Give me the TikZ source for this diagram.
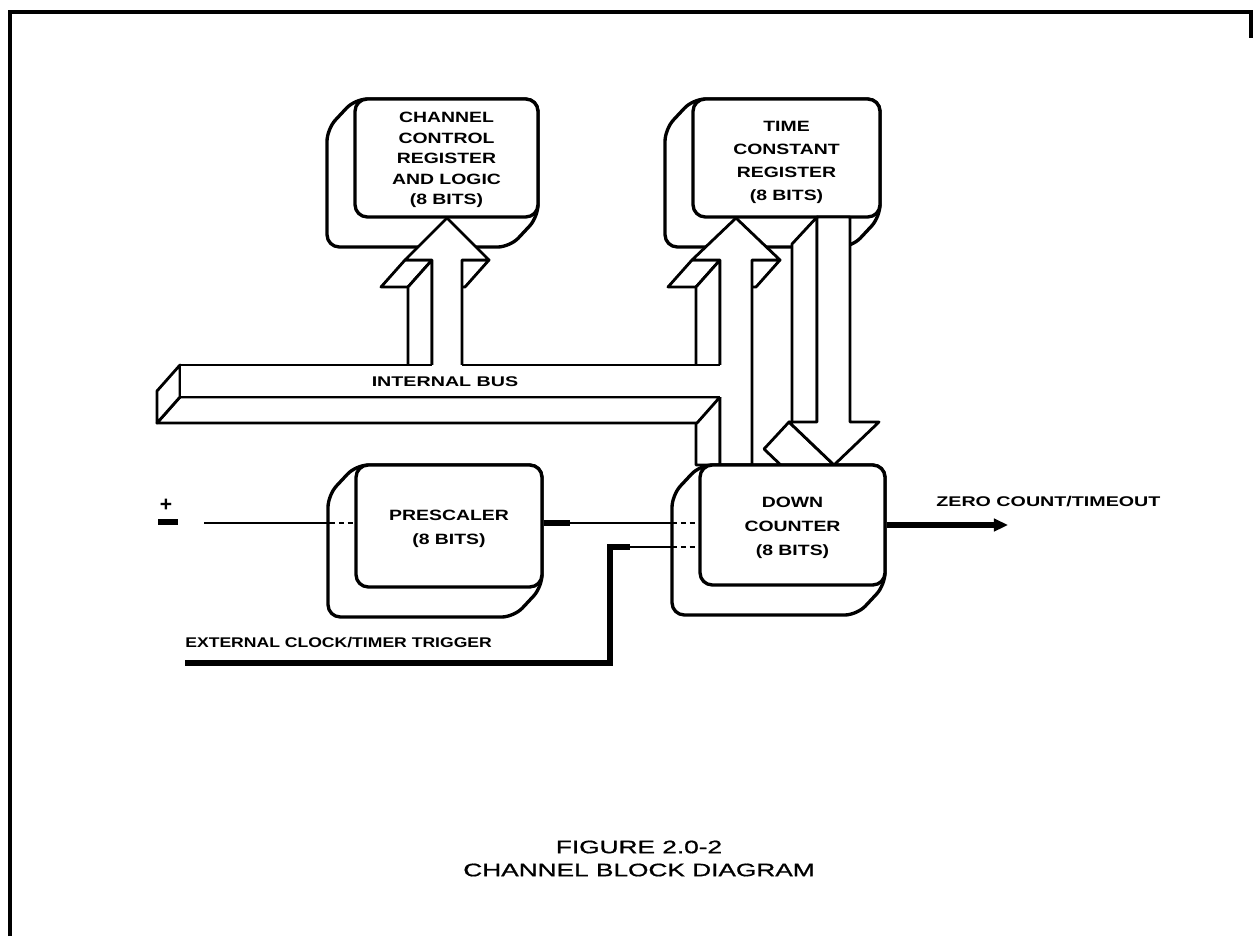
\documentclass[tikz,border=0pt]{standalone}
\usepackage{fontspec}
\setmainfont{Liberation Sans}
\newfontfamily\capfont{Liberation Sans}[FakeBold=0.8]
\usetikzlibrary{arrows.meta,fit}
\newcommand\btext[2]{\scalebox{1.3}[1]{\fontsize{8.5}{#1}\selectfont\bfseries\begin{tabular}{@{}c@{}}#2\end{tabular}}}
\newcommand\lbl[1]{\scalebox{1.4}[1]{\fontsize{8}{9}\selectfont\bfseries #1}}
\newcommand\captext[1]{\scalebox{1.45}[1]{\capfont\fontsize{10.3}{12}\selectfont #1}}
\tikzset{
 face/.style={draw=black, fill=white, line width=1.6pt, line join=round},
 boxface/.style={face, line width=1.9pt, rounded corners=7pt},
 boxnode/.style={boxface, inner sep=0pt},
 sig/.style={line width=1.2pt},
 thk/.style={line width=3pt},
 hid/.style={line width=1.2pt, dash pattern=on 3pt off 2pt},
 boxtext/.style={inner sep=0pt},
}
\newcommand\silh[4]{\draw[boxface] (#1,#2) -- (#3,#2) -- (#3,#4) -- (#3-28,#4+30) -- (#1-28,#4+30) -- (#1-28,#2+30) -- cycle;}
\begin{document}
\begin{tikzpicture}[x=0.02cm,y=-0.02cm]
\useasboundingbox (0,0) rectangle (1253,936);
\fill[white] (0,0) rectangle (1253,936);
% frame
\draw[line width=1.8pt] (10,936) -- (10,12) -- (1251,12) -- (1251,38);

% register boxes
\silh{355}{99}{538}{217}
\node[boxnode, fit={(355,99) (538,217)}] (ccr) {};
\node[boxtext] (ccrt) at ([yshift=-1pt]ccr.center) {\btext{11.7pt}{CHANNEL\\CONTROL\\REGISTER\\AND LOGIC\\(8 BITS)}};
\silh{693}{99}{880}{217}
\node[boxnode, fit={(693,99) (880,217)}] (tcr) {};
\node[boxtext] (tcrt) at ([yshift=-2pt]tcr.center) {\btext{13pt}{TIME\\CONSTANT\\REGISTER\\(8 BITS)}};
\silh{356}{465}{542}{587}
\node[boxnode, fit={(356,465) (542,587)}] (psc) {};
\node[boxtext] (psct) at ([yshift=-1pt]psc.center) {\btext{14pt}{PRESCALER\\(8 BITS)}};

% down arrow: time constant register -> down counter
\draw[face] (817,217) -- (817,422) -- (792,449) -- (792,244) -- cycle;
\draw[face] (789,422) -- (834,465) -- (809,492) -- (764,449) -- cycle;
\draw[face] (817,217) -- (850,217) -- (850,422) -- (879,422) -- (834,465) -- (789,422) -- (817,422) -- cycle;

% up arrow: bus -> channel control register
\draw[face] (405,260) -- (432,260) -- (408,287) -- (381,287) -- cycle;
\draw[face] (432,260) -- (432,375) -- (408,375) -- (408,287) -- cycle;
\draw[face] (462,260) -- (489,260) -- (465,287) -- (438,287) -- cycle;
\draw[face] (447,218) -- (489,260) -- (462,260) -- (462,375) -- (432,375) -- (432,260) -- (405,260) -- cycle;

% up pipe: down counter / bus -> time constant register
\draw[face] (692,260) -- (720,260) -- (696,287) -- (668,287) -- cycle;
\draw[face] (720,260) -- (720,465) -- (696,465) -- (696,287) -- cycle;
\draw[face] (752,260) -- (780,260) -- (756,287) -- (728,287) -- cycle;
\draw[face] (736,218) -- (780,260) -- (752,260) -- (752,465) -- (720,465) -- (720,260) -- (692,260) -- cycle;

% internal bus
\draw[face] (180,397) -- (720,397) -- (697,423) -- (157,423) -- cycle;
\draw[face] (180,365) -- (180,397) -- (157,423) -- (157,391) -- cycle;
\fill[white] (180,365) rectangle (724,397);
\draw[line width=1.6pt] (180,365) -- (432,365) (462,365) -- (720,365);
\draw[line width=1.6pt] (180,365) -- (180,397) -- (720,397);
\node (bus) at (445,382) {\lbl{INTERNAL BUS}};

% down counter
\silh{700}{465}{885}{585}
\node[boxnode, fit={(700,465) (885,585)}] (dc) {};
\node[boxtext] (dct) at ([yshift=-1pt]dc.center) {\btext{13.4pt}{DOWN\\COUNTER\\(8 BITS)}};

% clock input
\node[inner sep=0, font=\bfseries\fontsize{12}{12}\selectfont] (clk) at (166,505) {+};
\draw[line width=3.5pt] (158,522) -- (178,522);
\coordinate (in) at (204,523);
\draw[sig] (in) -- (330,523);
\draw[hid] (330,523) -- (psc.west |- in);

% prescaler -> down counter
\draw[thk] (psc.east |- in) -- (570,523);
\draw[sig] (570,523) -- (672,523);
\draw[hid] (672,523) -- (dc.west |- in);

% external clock / timer trigger
\coordinate (ext) at (185,663);
\coordinate (eb) at (610,547);
\draw[thk] (ext) -- (610,663) -- (eb) -- (630,547);
\draw[sig] (630,547) -- (672,547);
\draw[hid] (672,547) -- (dc.west |- eb);
\node[anchor=south west, inner sep=0] (extl) at (185,648) {\scalebox{1.25}[1]{\fontsize{8}{9}\selectfont\bfseries EXTERNAL CLOCK/TIMER TRIGGER}};

% output
\coordinate (out) at (1008,525);
\draw[thk, -{Triangle[length=8pt,width=7pt]}] (dc.east) -- (out);
\node[anchor=west, inner sep=0] (zc) at (936,502) {\lbl{ZERO COUNT/TIMEOUT}};

% caption
\node (fig) at (639,847) {\captext{FIGURE 2.0-2}};
\node (cap) at (639,870) {\captext{CHANNEL BLOCK DIAGRAM}};
\end{tikzpicture}
\end{document}
